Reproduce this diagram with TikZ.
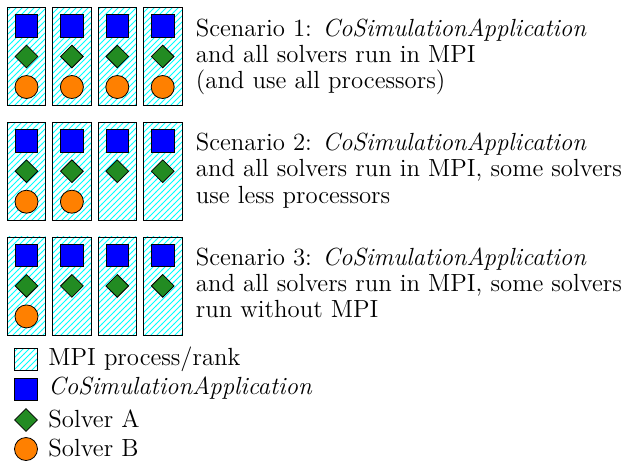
\documentclass[tikz,border=0pt]{standalone}
\usetikzlibrary{patterns,shapes.geometric,positioning}
\definecolor{appblue}{HTML}{0000FF}
\definecolor{solvergreen}{HTML}{228B22}
\definecolor{solverorange}{HTML}{FF8000}
\tikzset{rank/.style={draw,pattern=north east lines,pattern color=cyan,minimum width=19.2pt,minimum height=49pt,inner sep=0pt},appbox/.style={draw,fill=appblue,minimum size=11.25pt,inner sep=0pt},solvera/.style={diamond,draw,fill=solvergreen,minimum size=11.5pt,inner sep=0pt},solverb/.style={circle,draw,fill=solverorange,minimum size=11.5pt,inner sep=0pt},txt/.style={align=left,anchor=base west,inner sep=0pt,font=\fontsize{12.4}{13.1}\selectfont}}

\begin{document}
\begin{tikzpicture}[x=0.5pt,y=-0.5pt]
\useasboundingbox (0,0) rectangle (626,462);
% scenarios: row / centre / number of ranks with solver B
\foreach \r/\yy/\nb/\tail in {1/56.5/4/{and all solvers run in MPI\\(and use all processors)},2/171.2/2/{and all solvers run in MPI, some solvers\\use less processors},3/285.9/1/{and all solvers run in MPI, some solvers\\run without MPI}}{
  \foreach \c in {1,...,4}{
    \node[rank] (rank-\r-\c) at (26.5+45.4*\c-45.4,\yy) {};
    \node[appbox] (app-\r-\c) at (26.5+45.4*\c-45.4,\yy-30.5) {};
    \node[solvera] (sa-\r-\c) at (rank-\r-\c.center) {};
    \ifnum\c>\nb\else\node[solverb] (sb-\r-\c) at (26.5+45.4*\c-45.4,\yy+30.5) {};\fi
  }
  % base = last of the three lines
  \node[txt] (sc-\r) at (195.5,\yy+31.9) {Scenario \r: \textit{CoSimulationApplication}\\\tail};
}
% legend
\node[rank,minimum width=11.25pt,minimum height=11.25pt] (lg-rank) at (26,359.5) {};
\node[appbox] (lg-app) at (26,389.5) {};
\node[solvera] (lg-sa) at (26,420) {};
\node[solverb] (lg-sb) at (26,449) {};
\node[txt] (lt-rank) at (48,365) {MPI process/rank};
\node[txt] (lt-app) at (48,394) {\textit{CoSimulationApplication}};
\node[txt] (lt-sa) at (48,427.5) {Solver A};
\node[txt] (lt-sb) at (48,456.5) {Solver B};
\end{tikzpicture}
\end{document}
